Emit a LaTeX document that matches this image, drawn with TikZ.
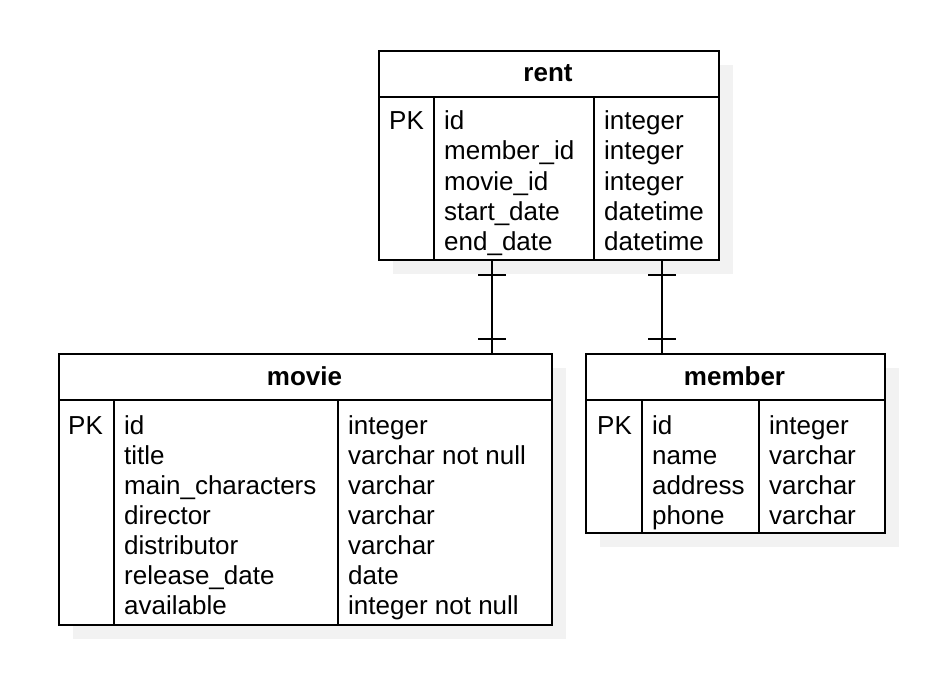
\documentclass[tikz,border=0pt]{standalone}
\usepackage{fontspec}
\setmainfont{Liberation Sans}
\usetikzlibrary{shadows,calc}

\begin{document}
\begin{tikzpicture}[
		x=1pt, y=-1pt,
		table/.style={draw, line width=2pt, fill=white, inner sep=0pt, anchor=north west,
			drop shadow={shadow xshift=14pt, shadow yshift=-14pt, fill=black!5, opacity=1}},
		divider/.style={line width=2pt},
		link/.style={line width=2pt},
		cell/.style={anchor=base west, inner sep=0pt, font=\fontsize{26}{30}\selectfont},
		title/.style={anchor=base, inner sep=0pt, font=\fontsize{26}{30}\selectfont\bfseries}
		]
		
		\useasboundingbox (0,0) rectangle (926,674);
		
		% Table rent
		\node[table, minimum width=340pt, minimum height=209pt] (rent) at (378,50) {};
		\draw[divider] ([yshift=-47pt]rent.north west) -- ([yshift=-47pt]rent.north east);
		\draw[divider] ([xshift=56pt, yshift=-47pt]rent.north west) -- ([xshift=56pt]rent.south west);
		\draw[divider] ([xshift=216pt, yshift=-47pt]rent.north west) -- ([xshift=216pt]rent.south west);
		\node[title] (rent-title) at (548,82) {rent};
		\node[cell] (rent-pk) at (389,130) {PK};
		\foreach \name/\type [count=\i from 0] in {id/integer, member\_id/integer, movie\_id/integer, start\_date/datetime, end\_date/datetime}{
			\node[cell] (rent-name-\i) at (444,{130+30*\i}) {\name};
			\node[cell] (rent-type-\i) at (604,{130+30*\i}) {\type};
		}
		
		% Table movie
		\node[table, minimum width=493pt, minimum height=271pt] (movie) at (58,353) {};
		\draw[divider] ([yshift=-47pt]movie.north west) -- ([yshift=-47pt]movie.north east);
		\draw[divider] ([xshift=56pt, yshift=-47pt]movie.north west) -- ([xshift=56pt]movie.south west);
		\draw[divider] ([xshift=280pt, yshift=-47pt]movie.north west) -- ([xshift=280pt]movie.south west);
		\node[title] (movie-title) at (304.5,385) {movie};
		\node[cell] (movie-pk) at (68,434) {PK};
		\foreach \name/\type [count=\i from 0] in {id/integer, title/varchar not null, main\_characters/varchar, director/varchar, distributor/varchar, release\_date/date, available/integer not null}{
			\node[cell] (movie-name-\i) at (124,{434+30*\i}) {\name};
			\node[cell] (movie-type-\i) at (348,{434+30*\i}) {\type};
		}
		
		% Table member
		\node[table, minimum width=299pt, minimum height=179pt] (member) at (585,353) {};
		\draw[divider] ([yshift=-47pt]member.north west) -- ([yshift=-47pt]member.north east);
		\draw[divider] ([xshift=57pt, yshift=-47pt]member.north west) -- ([xshift=57pt]member.south west);
		\draw[divider] ([xshift=174pt, yshift=-47pt]member.north west) -- ([xshift=174pt]member.south west);
		\node[title] (member-title) at (734.5,385) {member};
		\node[cell] (member-pk) at (597,434) {PK};
		\foreach \name/\type [count=\i from 0] in {id/integer, name/varchar, address/varchar, phone/varchar}{
			\node[cell] (member-name-\i) at (652,{434+30*\i}) {\name};
			\node[cell] (member-type-\i) at (769,{434+30*\i}) {\type};
		}
		
		% Relations
		\coordinate (rent-movie) at ([xshift=114pt]rent.south west);
		\coordinate (rent-member) at ([xshift=284pt]rent.south west);
		\draw[link] (rent-movie) -- (rent-movie |- movie.north);
		\draw[link] ($(rent-movie)+(-14pt,-14pt)$) -- ++(28pt,0pt);
		\draw[link] ($(rent-movie |- movie.north)+(-14pt,14pt)$) -- ++(28pt,0pt);
		\draw[link] (rent-member) -- (rent-member |- member.north);
		\draw[link] ($(rent-member)+(-14pt,-14pt)$) -- ++(28pt,0pt);
		\draw[link] ($(rent-member |- member.north)+(-14pt,14pt)$) -- ++(28pt,0pt);
		
	\end{tikzpicture}
\end{document}
